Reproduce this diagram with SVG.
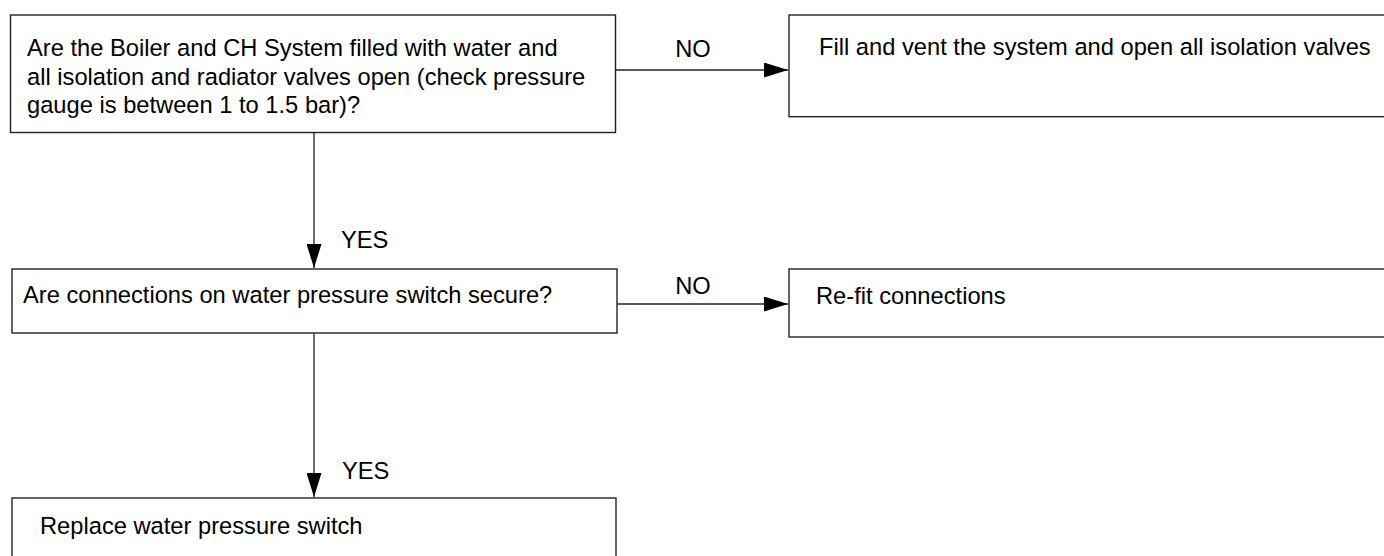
<svg xmlns="http://www.w3.org/2000/svg" width="1384" height="556" viewBox="0 0 1384 556">
<defs>
<marker id="arr" markerWidth="24" markerHeight="15" refX="24" refY="7.5" orient="auto" markerUnits="userSpaceOnUse">
<path d="M0,0 L24,7.5 L0,15 Z" fill="#000"/>
</marker>
<style>
.box{fill:#fff;stroke:#222;stroke-width:1.4}
.t{font-family:"Liberation Sans",Arial,sans-serif;font-size:23.7px;fill:#000}
.c{stroke:#222;stroke-width:1.3;fill:none;marker-end:url(#arr)}
</style>
</defs>
<rect width="1384" height="556" fill="#fff"/>
<g id="connectors">
<line class="c" x1="616" y1="70" x2="788" y2="70"/>
<text class="t" x="693" y="57" text-anchor="middle">NO</text>
<line class="c" x1="314" y1="133" x2="314" y2="268"/>
<text class="t" x="341" y="248">YES</text>
<line class="c" x1="617" y1="304" x2="788" y2="304"/>
<text class="t" x="693" y="294" text-anchor="middle">NO</text>
<line class="c" x1="314" y1="333" x2="314" y2="497"/>
<text class="t" x="342" y="479">YES</text>
</g>
<g id="n1">
<rect class="box" x="10.5" y="15" width="605" height="117.5"/>
<text class="t" x="27" y="56.3">Are the Boiler and CH System filled with water and</text>
<text class="t" x="27" y="84.8">all isolation and radiator valves open (check pressure</text>
<text class="t" x="27" y="113.3">gauge is between 1 to 1.5 bar)?</text>
</g>
<g id="n2">
<rect class="box" x="789" y="15" width="610" height="101.7"/>
<text class="t" x="819" y="55">Fill and vent the system and open all isolation valves</text>
</g>
<g id="n3">
<rect class="box" x="12" y="269" width="605" height="64"/>
<text class="t" x="23" y="303">Are connections on water pressure switch secure?</text>
</g>
<g id="n4">
<rect class="box" x="789" y="269" width="610" height="68"/>
<text class="t" x="816" y="304">Re-fit connections</text>
</g>
<g id="n5">
<rect class="box" x="12" y="498" width="604" height="80"/>
<text class="t" x="40" y="534">Replace water pressure switch</text>
</g>
</svg>
